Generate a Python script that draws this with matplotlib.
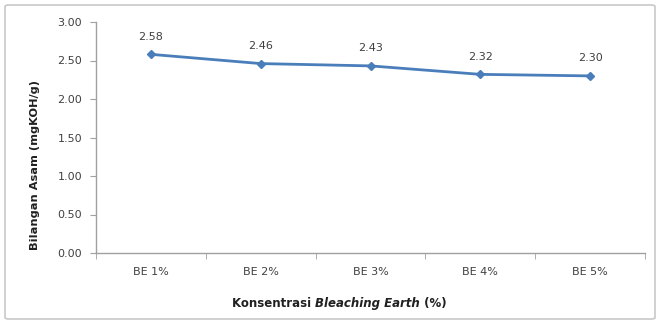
import matplotlib
matplotlib.use("Agg")
import matplotlib.pyplot as plt
from matplotlib.patches import FancyBboxPatch

categories = ["BE 1%", "BE 2%", "BE 3%", "BE 4%", "BE 5%"]
values = [2.58, 2.46, 2.43, 2.32, 2.30]
value_labels = ["2.58", "2.46", "2.43", "2.32", "2.30"]
yticks = [0.0, 0.5, 1.0, 1.5, 2.0, 2.5, 3.0]

W, H = 659, 324
fig = plt.figure(figsize=(W / 100, H / 100), dpi=100)
fig.patch.set_facecolor("white")

# chart border
fig.patches.append(FancyBboxPatch((5 / W, 5 / H), 650 / W, 314 / H,
                                  boxstyle="round,pad=0,rounding_size=0.005",
                                  transform=fig.transFigure, facecolor="none",
                                  edgecolor="#c8c8c8", linewidth=1.2))

left, right, top, bottom = 96, 645, 22, 253
ax = fig.add_axes([left / W, 1 - bottom / H, (right - left) / W, (bottom - top) / H])

x = list(range(len(categories)))
ax.plot(x, values, color="#4a7ebb", linewidth=2.0, marker="D", markersize=4,
        markerfacecolor="#4a7ebb", markeredgecolor="#4a7ebb")
for xi, v, lab in zip(x, values, value_labels):
    ax.annotate(lab, (xi, v), xytext=(0, 9), textcoords="offset points",
                ha="center", va="bottom", fontsize=8, color="#404040")

ax.set_xlim(-0.5, len(categories) - 0.5)
ax.set_ylim(0, 3.0)
ax.set_yticks(yticks)
ax.set_yticklabels([f"{t:.2f}" for t in yticks], fontsize=8, color="#404040")
ax.set_xticks(x)
ax.set_xticklabels(categories, fontsize=8, color="#404040")
ax.tick_params(axis="x", length=0, pad=10)
ax.set_xticks([i + 0.5 for i in range(-1, len(categories))], minor=True)
ax.tick_params(axis="x", which="minor", length=4, color="#a0a0a0", direction="out")
ax.tick_params(axis="y", length=4, color="#a0a0a0", direction="out", pad=6)

for s in ["top", "right"]:
    ax.spines[s].set_visible(False)
for s in ["left", "bottom"]:
    ax.spines[s].set_color("#a0a0a0")
    ax.spines[s].set_linewidth(1.0)

# y-axis title
fig.text(35 / W, 1 - 165 / H, "Bilangan Asam (mgKOH/g)", rotation=90,
         fontsize=8.2, fontweight="bold", color="#202020",
         ha="center", va="center")

# x-axis title with italic part
fig.canvas.draw()
r = fig.canvas.get_renderer()
parts = [("Konsentrasi ", "normal"), ("Bleaching Earth", "italic"), (" (%)", "normal")]
texts = []
for s, style in parts:
    t = fig.text(0, 0, s, fontsize=8.5, fontweight="bold", style=style,
                 color="#202020", va="baseline")
    texts.append(t)
fig.canvas.draw()
widths = [t.get_window_extent(r).width for t in texts]
total = sum(widths)
cx = 339
xpos = cx - total / 2
ypos = H - 307
for t, w in zip(texts, widths):
    t.set_position((xpos / W, ypos / H))
    xpos += w

fig.savefig("out.png", dpi=100, facecolor="white")
